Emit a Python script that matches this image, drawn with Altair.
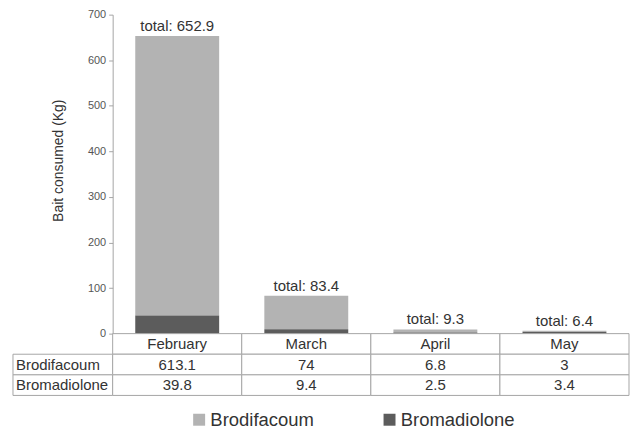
import altair as alt
import pandas as pd

# ---- data ----
months = ["February", "March", "April", "May"]
brodifacoum = [613.1, 74, 6.8, 3]
bromadiolone = [39.8, 9.4, 2.5, 3.4]
series_names = ["Brodifacoum", "Bromadiolone"]
series_colors = ["#b3b3b3", "#5c5c5c"]
y_ticks = [0, 100, 200, 300, 400, 500, 600, 700]
table_rows = ["header", "Brodifacoum", "Bromadiolone"]

FONT = "Liberation Sans"
TXT = "#333333"
GRID = "#a6a6a6"
W = 518
H = 320

# long table for the stacked bars
bar_rows = []
for m, a, b in zip(months, brodifacoum, bromadiolone):
    bar_rows.append({"month": m, "series": "Brodifacoum", "value": a, "stack": 1})
    bar_rows.append({"month": m, "series": "Bromadiolone", "value": b, "stack": 0})
bars_df = pd.DataFrame(bar_rows)

# data table cells
cell_rows = []
for i, m in enumerate(months):
    cell_rows.append({"month": m, "row": "header", "text": m})
    cell_rows.append({"month": m, "row": "Brodifacoum", "text": f"{brodifacoum[i]:g}"})
    cell_rows.append({"month": m, "row": "Bromadiolone", "text": f"{bromadiolone[i]:g}"})
cells_df = pd.DataFrame(cell_rows)
labels_df = pd.DataFrame({"row": series_names, "text": series_names})

x_bar = alt.X("month:N", sort=months,
              scale=alt.Scale(paddingInner=0.35, paddingOuter=0.175), axis=None)

y_axis = alt.Axis(values=y_ticks, grid=False, title="Bait consumed (Kg)",
                  domainColor=GRID, tickColor=GRID, tickSize=4,
                  labelFont=FONT, labelFontSize=11, labelColor="#555555", labelPadding=3,
                  titleFont=FONT, titleFontSize=14, titleFontWeight="normal",
                  titleColor=TXT, titleX=-47, titleY=146)

bars = alt.Chart(bars_df).mark_bar().encode(
    x=x_bar,
    y=alt.Y("value:Q", stack="zero", scale=alt.Scale(domain=[0, 700]), axis=y_axis),
    color=alt.Color("series:N",
                    scale=alt.Scale(domain=series_names, range=series_colors),
                    legend=alt.Legend(orient="none", legendX=77.5, legendY=397,
                                      direction="horizontal", title=None,
                                      symbolType="square", symbolSize=144,
                                      symbolStrokeWidth=0, labelOffset=2,
                                      columnPadding=66, padding=0,
                                      labelFont=FONT, labelFontSize=18.5,
                                      labelColor=TXT)),
    order=alt.Order("stack:Q", sort="ascending"),
)

totals = alt.Chart(bars_df).transform_aggregate(
    total="sum(value)", groupby=["month"]
).transform_calculate(
    label="'total: ' + format(datum.total, '.1f')"
).mark_text(font=FONT, fontSize=15, color=TXT, baseline="alphabetic", dy=-5).encode(
    x=x_bar,
    y=alt.Y("total:Q", title="Bait consumed (Kg)"),
    text="label:N",
)

top = alt.layer(bars, totals).properties(width=W, height=H)

x_tab = alt.X("month:N", sort=months,
              scale=alt.Scale(paddingInner=0, paddingOuter=0), axis=None)
y_tab = alt.Y("row:N", sort=table_rows,
              scale=alt.Scale(domain=table_rows, paddingInner=0, paddingOuter=0), axis=None)

cell_rects = alt.Chart(cells_df).mark_rect(fill="white", stroke=GRID, strokeWidth=1).encode(
    x=x_tab, y=y_tab)
cell_text = alt.Chart(cells_df).mark_text(font=FONT, fontSize=15, color=TXT).encode(
    x=x_tab, y=y_tab, text="text:N")
label_rects = alt.Chart(labels_df).mark_rect(fill="white", stroke=GRID, strokeWidth=1).encode(
    x=alt.value(-100), x2=alt.value(0), y=y_tab)
label_text = alt.Chart(labels_df).mark_text(font=FONT, fontSize=15, color=TXT, align="left").encode(
    x=alt.value(-97), y=y_tab, text="text:N")

table = alt.layer(label_rects, label_text, cell_rects, cell_text).properties(width=W, height=62)

chart = alt.vconcat(top, table, spacing=0, bounds="flush").resolve_scale(
    x="independent", y="independent", color="independent"
).resolve_legend(color="independent").properties(
    padding={"left": 4, "top": 0, "right": 0, "bottom": 0}
).configure_view(strokeWidth=0)

chart.save("out.html", embed_options={"renderer": "svg", "actions": False})
